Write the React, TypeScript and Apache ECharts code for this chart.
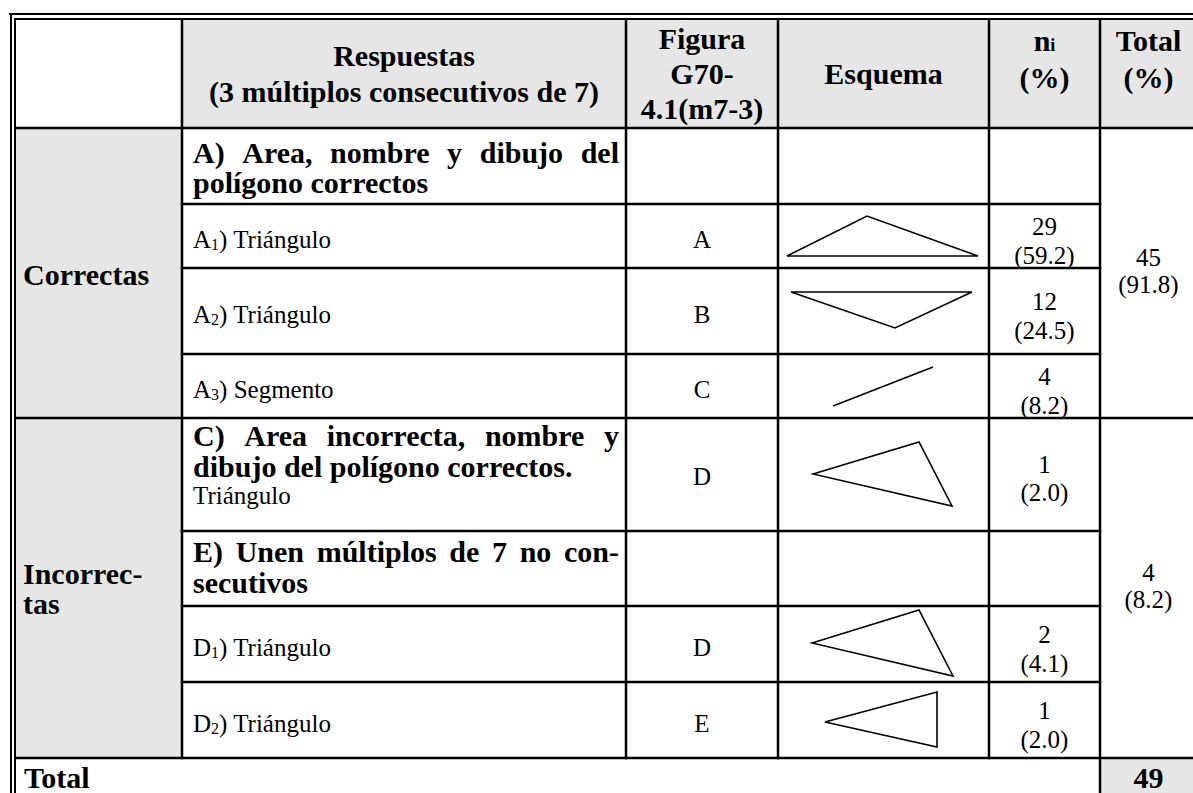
import React, { useEffect, useRef } from 'react';
import * as echarts from 'echarts';

// ---------- data ----------
const headerRespuestas = ['Respuestas', '(3 múltiplos consecutivos de 7)'];
const headerFigura = ['Figura', 'G70-', '4.1(m7-3)'];
const headerEsquema = 'Esquema';
const headerTotal = ['Total', '(%)'];
const groupNames = [['Correctas'], ['Incorrec-', 'tas']];
const groupCounts = [45, 4];
const groupPercents = [91.8, 8.2];
const grandTotal = 49;

const titleA = ['A) Area, nombre y dibujo del', 'polígono correctos'];
const titleC = ['C) Area incorrecta, nombre y', 'dibujo del polígono correctos.', 'Triángulo'];
const titleE = ['E) Unen múltiplos de 7 no con-', 'secutivos'];

const itemLetters = ['A', 'A', 'A', 'D', 'D'];
const itemSubs = ['1', '2', '3', '1', '2'];
const itemNames = ['Triángulo', 'Triángulo', 'Segmento', 'Triángulo', 'Triángulo'];
const itemFigures = ['A', 'B', 'C', 'D', 'E'];
const itemCounts = [29, 12, 4, 2, 1];
const itemPercents = [59.2, 24.5, 8.2, 4.1, 2.0];

const cFigure = 'D';
const cCount = 1;
const cPercent = 2.0;

// ---------- layout ----------
const COLS = [15, 182, 626, 778, 989, 1100, 1197];
const ROWS = [19, 128, 204, 268, 354, 418, 531, 606, 682, 758, 805];
const itemRows = [2, 3, 4, 7, 8];
const GRAY = '#e6e6e6';
const FONT = 'Liberation Serif';
const BOLD = 30;
const REG = 25;
const SUB = 16;
const LW = 2.5;

// sketches, offsets inside the esquema cell (dx, dy from cell top-left)
const sketchItems: number[][][] = [
  [[9, 52], [89, 12], [200, 52]],
  [[13, 24], [194, 24], [117, 60]],
  [[55, 52], [155, 13]],
  [[34, 37], [141, 4], [175, 70]],
  [[47, 40], [159, 10], [159, 65]],
];
const sketchC: number[][] = [[35, 56], [141, 24], [174, 88]];

let ctx: CanvasRenderingContext2D | null = null;
function measure(text: string, size: number, bold: boolean) {
  if (!ctx) ctx = document.createElement('canvas').getContext('2d');
  ctx!.font = `${bold ? 'bold ' : ''}${size}px ${FONT}`;
  return ctx!.measureText(text).width;
}

function txt(text: string, x: number, y: number, size: number, bold: boolean, align = 'left') {
  return {
    type: 'text',
    x,
    y,
    z: 10,
    silent: true,
    style: {
      text,
      fontSize: size,
      fontWeight: bold ? 'bold' : 'normal',
      fontFamily: FONT,
      fill: '#000',
      align,
      verticalAlign: 'middle',
      textAlign: align,
      textVerticalAlign: 'middle',
    },
  };
}

function justified(line: string, x0: number, x1: number, y: number, size: number, bold: boolean) {
  const words = line.split(' ');
  const widths = words.map((w) => measure(w, size, bold));
  const sum = widths.reduce((a, b) => a + b, 0);
  const gap = (x1 - x0 - sum) / (words.length - 1);
  const out: any[] = [];
  let x = x0;
  words.forEach((w, i) => {
    out.push(txt(w, x, y, size, bold));
    x += widths[i] + gap;
  });
  return out;
}

function hline(x1: number, x2: number, y: number, lw = LW) {
  return { type: 'line', z: 5, silent: true, shape: { x1, y1: y, x2, y2: y }, style: { stroke: '#000', lineWidth: lw } };
}
function vline(x: number, y1: number, y2: number, lw = LW) {
  return { type: 'line', z: 5, silent: true, shape: { x1: x, y1, x2: x, y2 }, style: { stroke: '#000', lineWidth: lw } };
}
function rect(x: number, y: number, w: number, h: number, fill: string) {
  return { type: 'rect', z: 1, silent: true, shape: { x, y, width: w, height: h }, style: { fill } };
}

function buildElements() {
  const els: any[] = [];
  const [c0, c1, c2, c3, c4, c5, c6] = COLS;
  const R = ROWS;
  const h = LW / 2;

  // fills
  els.push(rect(c1, R[0], c6 - c1, R[1] - R[0], GRAY));
  els.push(rect(c0, R[1], c1 - c0, R[9] - R[1], GRAY));
  els.push(rect(c5, R[9], c6 - c5, R[10] - R[9], GRAY));

  // double outer border
  els.push(hline(9, 1210, 14, 2));
  els.push(vline(11, 13, 800, 2));
  els.push(hline(c0 - 1, 1210, 19, 2));
  els.push(vline(c0, 18, 800, 2));

  // horizontal grid lines
  els.push(hline(c0, c6, R[1]));
  [2, 3, 4].forEach((r) => els.push(hline(c1 - h, c5 + h, R[r])));
  els.push(hline(c0, c6, R[5]));
  [6, 7, 8].forEach((r) => els.push(hline(c1 - h, c5 + h, R[r])));
  els.push(hline(c0, c6, R[9]));

  // vertical grid lines
  [c1, c2, c3, c4].forEach((c) => els.push(vline(c, R[0], R[9] + h)));
  els.push(vline(c5, R[0], 800));

  // header
  const hc = (R[0] + R[1]) / 2;
  headerRespuestas.forEach((t, i) => els.push(txt(t, (c1 + c2) / 2, hc - 18 + i * 36, BOLD, true, 'center')));
  headerFigura.forEach((t, i) => els.push(txt(t, (c2 + c3) / 2, hc - 35 + i * 35, BOLD, true, 'center')));
  els.push(txt(headerEsquema, (c3 + c4) / 2, hc, BOLD, true, 'center'));
  // n_i
  {
    const wn = measure('n', BOLD, true);
    const wi = measure('i', 18, true);
    const cx = (c4 + c5) / 2;
    const sx = cx - (wn + wi) / 2;
    els.push(txt('n', sx, 40, BOLD, true));
    els.push(txt('i', sx + wn, 45, 18, true));
    els.push(txt('(%)', cx, 77, BOLD, true, 'center'));
  }
  els.push(txt(headerTotal[0], (c5 + c6) / 2, 40, BOLD, true, 'center'));
  els.push(txt(headerTotal[1], (c5 + c6) / 2, 77, BOLD, true, 'center'));

  // group labels
  const g1c = (R[1] + R[5]) / 2;
  const g2c = (R[5] + R[9]) / 2;
  els.push(txt(groupNames[0][0], 23, g1c + 1, BOLD, true));
  groupNames[1].forEach((t, i) => els.push(txt(t, 23, g2c - 15 + i * 30, BOLD, true)));

  // group totals
  [g1c, g2c].forEach((gc, gi) => {
    els.push(txt(String(groupCounts[gi]), (c5 + c6) / 2, gc - 16, REG, false, 'center'));
    els.push(txt(`(${groupPercents[gi].toFixed(1)})`, (c5 + c6) / 2, gc + 11, REG, false, 'center'));
  });

  // title rows
  const tx0 = 193;
  const tx1 = 619;
  els.push(...justified(titleA[0], tx0, tx1, 152, BOLD, true));
  els.push(txt(titleA[1], tx0, 182, BOLD, true));
  els.push(...justified(titleC[0], tx0, tx1, 435, BOLD, true));
  els.push(txt(titleC[1], tx0, 466, BOLD, true));
  els.push(txt(titleC[2], tx0, 495, REG, false));
  els.push(...justified(titleE[0], tx0, tx1, 551, BOLD, true));
  els.push(txt(titleE[1], tx0, 582, BOLD, true));

  // C row values
  {
    const cy = (R[5] + R[6]) / 2;
    els.push(txt(cFigure, (c2 + c3) / 2, cy + 2, REG, false, 'center'));
    els.push(txt(String(cCount), (c4 + c5) / 2, cy - 10, REG, false, 'center'));
    els.push(txt(`(${cPercent.toFixed(1)})`, (c4 + c5) / 2, cy + 18, REG, false, 'center'));
    els.push({
      type: 'polygon', z: 6, silent: true,
      shape: { points: sketchC.map(([dx, dy]) => [c3 + dx, R[5] + dy]) },
      style: { fill: 'none', stroke: '#000', lineWidth: 1.6 },
    });
  }

  // item rows
  itemRows.forEach((r, i) => {
    const top = R[r];
    const cy = (R[r] + R[r + 1]) / 2;
    const ly = cy + 3;
    const wl = measure(itemLetters[i], REG, false);
    const ws = measure(itemSubs[i], SUB, false);
    els.push(txt(itemLetters[i], tx0, ly, REG, false));
    els.push(txt(itemSubs[i], tx0 + wl, ly + 5, SUB, false));
    els.push(txt(`) ${itemNames[i]}`, tx0 + wl + ws, ly, REG, false));
    els.push(txt(itemFigures[i], (c2 + c3) / 2, ly, REG, false, 'center'));
    els.push(txt(String(itemCounts[i]), (c4 + c5) / 2, cy - 10, REG, false, 'center'));
    els.push(txt(`(${itemPercents[i].toFixed(1)})`, (c4 + c5) / 2, cy + 19, REG, false, 'center'));
    const pts = sketchItems[i].map(([dx, dy]) => [c3 + dx, top + dy]);
    els.push({
      type: pts.length > 2 ? 'polygon' : 'polyline', z: 6, silent: true,
      shape: { points: pts },
      style: { fill: 'none', stroke: '#000', lineWidth: 1.6 },
    });
  });

  // total row
  els.push(txt('Total', 24, 777, BOLD, true));
  els.push(txt(String(grandTotal), (c5 + c6) / 2, 777, BOLD, true, 'center'));

  return els;
}

export default function App() {
  const ref = useRef<HTMLDivElement>(null);
  useEffect(() => {
    document.body.style.margin = '0';
    const chart = echarts.init(ref.current!, null, { renderer: 'svg' });
    chart.setOption({
      animation: false,
      backgroundColor: '#ffffff',
      graphic: { elements: buildElements() },
    });
    return () => chart.dispose();
  }, []);
  return <div ref={ref} style={{ position: 'absolute', left: 0, top: 0, width: 1193, height: 793 }} />;
}
